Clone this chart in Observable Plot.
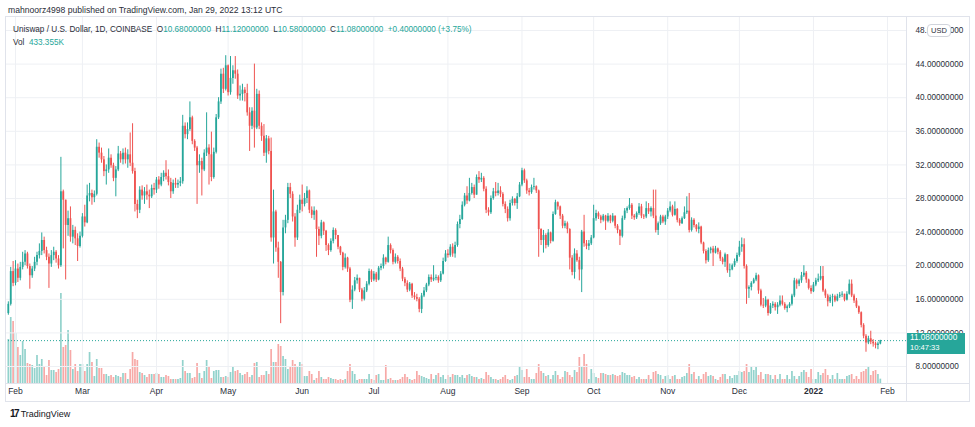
<!DOCTYPE html>
<html><head><meta charset="utf-8">
<script src="https://cdn.jsdelivr.net/npm/d3@7"></script>
<script src="https://cdn.jsdelivr.net/npm/@observablehq/plot@0.6"></script>
<style>
body{margin:0;background:#fff;}
#wrap{position:relative;width:975px;height:427px;overflow:hidden;background:#fff;font-family:"Liberation Sans",Arial,sans-serif;color:#2a2e39;}
#wrap svg{position:absolute;left:0;top:0;}
.t{position:absolute;white-space:nowrap;line-height:1;}
.v{color:#26a69a;}
.ln{position:absolute;background:#e0e3eb;}
</style></head><body><div id="wrap"></div>
<script>
// ---------- DATA ----------
const firstDate = "2021-01-29";   // first daily candle
const firstOpen = 14.3;
const closes = [
15.4,19.3,17.9,19.6,18.5,19.8,20.4,21.4,19.9,18.8,
19.6,20.4,21.2,21.7,23.0,21.8,21.0,20.2,21.2,21.6,
20.8,20.0,28.8,27.8,24.8,25.6,23.4,24.2,23.2,22.3,
23.5,25.8,25.1,28.3,28.6,28.1,28.5,34.1,33.4,32.6,
31.2,31.4,32.8,31.9,30.4,31.4,33.3,32.6,33.4,32.6,
33.2,32.2,31.2,27.3,26.6,29.0,28.3,28.8,28.4,28.2,
29.2,29.0,30.2,29.6,30.5,31.0,30.6,29.9,28.8,29.8,
29.6,29.8,30.0,36.6,35.6,36.2,37.6,34.8,34.0,31.9,
32.4,31.4,33.4,34.0,33.2,30.5,33.5,37.6,39.5,42.8,
41.0,43.8,40.6,42.3,43.2,42.8,40.2,40.4,40.9,40.5,
38.2,36.6,38.4,36.4,40.4,36.6,35.4,33.4,35.1,33.6,
23.3,26.4,22.1,20.4,16.8,24.5,25.4,29.3,28.5,25.8,
23.3,26.6,27.8,27.3,28.0,28.9,26.6,26.0,26.5,24.3,
23.5,25.1,24.1,22.4,21.8,22.9,24.2,23.6,22.2,21.5,
19.8,20.9,19.6,15.9,17.1,18.2,18.5,17.1,16.0,17.0,
17.8,19.3,18.3,19.0,18.3,19.7,19.9,20.9,20.4,22.4,
21.8,20.4,21.0,20.5,19.6,18.4,17.9,17.1,17.8,16.4,
16.2,16.0,14.8,16.4,17.0,17.7,18.6,18.3,18.5,18.6,
18.2,19.0,20.5,21.4,21.2,22.2,21.4,22.4,24.9,25.5,
27.2,28.3,27.7,28.6,29.3,28.4,30.5,30.2,30.4,29.1,
26.6,26.3,28.0,28.8,28.6,28.9,28.5,27.3,26.7,25.6,
27.4,27.9,27.4,28.2,29.6,31.3,30.1,28.9,28.7,29.3,
29.4,28.9,24.3,23.0,23.6,22.4,23.9,22.9,26.1,27.5,
27.0,25.9,24.7,25.0,24.3,20.9,19.2,21.4,20.6,19.5,
24.0,22.6,22.3,22.6,23.3,25.6,26.2,25.8,25.4,25.9,
25.3,25.9,25.3,25.9,24.7,24.2,23.5,25.6,26.5,26.8,
27.2,25.9,25.7,26.2,27.0,25.9,25.8,26.8,26.4,26.8,
25.9,24.2,25.0,25.8,25.2,25.8,26.5,27.0,26.0,26.7,
25.4,25.0,25.6,26.3,26.5,24.2,25.4,24.8,24.3,24.6,
22.7,21.7,20.6,21.8,22.0,21.5,22.0,21.6,20.8,20.4,
21.3,19.4,19.5,20.0,20.5,21.2,22.2,22.5,19.9,17.2,
17.4,17.9,18.3,18.8,17.0,15.3,15.2,15.9,14.3,15.2,
15.4,15.0,15.3,15.8,15.4,14.9,15.1,15.4,16.4,18.2,
17.8,18.2,18.8,19.1,18.3,17.3,16.9,17.7,18.2,18.4,
18.7,17.0,16.4,15.7,16.2,16.3,15.8,16.3,16.5,16.6,
15.9,16.6,17.8,16.4,15.8,15.1,14.4,12.9,11.6,10.8,
11.3,10.9,10.7,10.5,10.68,11.08];
const highs = [
15.7,19.8,20.5,20.6,20.2,20.4,21.6,21.8,21.6,20.2,
19.9,21.0,21.6,22.6,23.9,23.4,22.2,21.4,21.8,22.2,
21.8,21.2,32.9,29.0,27.8,26.5,27.0,24.8,24.6,23.8,
24.0,26.2,27.2,29.6,29.8,29.0,28.9,35.0,34.6,34.0,
33.0,32.0,33.9,33.2,32.2,31.8,34.2,33.6,33.9,34.0,
33.8,35.8,36.9,31.6,27.8,29.4,29.5,29.3,29.6,29.0,
29.6,29.8,30.5,30.6,31.0,31.3,32.5,31.4,30.4,30.2,
30.4,30.2,30.5,37.9,37.0,37.0,39.5,37.8,35.0,34.2,
33.2,32.8,33.8,38.2,34.4,35.9,34.0,38.0,40.0,43.4,
43.5,45.0,43.9,44.9,43.8,44.9,43.3,41.4,41.6,41.2,
41.6,38.8,38.8,44.0,41.0,40.8,37.0,36.8,35.5,35.4,
35.2,29.0,26.6,22.8,20.5,25.4,26.0,29.8,29.8,28.8,
26.2,27.2,28.4,29.6,28.6,29.4,29.0,27.0,27.0,26.6,
24.6,25.4,25.2,24.2,22.6,23.2,24.5,24.4,23.6,22.3,
21.6,21.4,21.0,19.8,17.6,18.6,18.9,18.4,17.3,17.4,
18.1,19.6,19.5,19.3,19.2,19.9,20.2,21.3,21.0,23.4,
22.6,22.0,21.4,21.2,20.8,19.8,18.6,18.2,18.0,17.9,
16.8,16.6,16.2,16.7,17.4,17.9,18.9,18.9,20.0,18.9,
18.8,19.3,20.9,21.8,21.9,22.5,22.6,22.8,25.2,26.0,
27.6,28.6,29.4,30.4,29.8,29.6,30.8,31.2,31.0,30.6,
29.4,26.9,28.3,29.2,29.9,29.8,29.4,28.7,27.6,27.0,
27.8,28.2,28.0,28.6,29.9,31.6,31.5,30.3,29.2,29.6,
30.4,29.5,29.0,24.4,24.2,23.8,24.3,24.0,26.4,27.8,
27.6,27.1,26.1,25.3,25.2,24.4,21.2,22.0,21.8,21.0,
24.2,26.0,23.0,23.0,23.6,27.2,26.6,26.4,26.0,26.1,
26.0,26.2,26.0,26.2,25.9,24.9,24.3,25.9,26.8,27.0,
28.0,27.4,26.1,26.4,27.4,27.3,26.1,27.6,27.4,27.0,
29.0,29.0,25.2,26.0,26.0,26.0,26.8,27.6,27.2,27.6,
26.8,25.6,25.8,27.0,28.2,28.6,25.7,25.6,24.9,25.1,
24.7,22.8,21.9,22.1,22.2,22.3,22.3,22.1,21.8,21.0,
21.5,21.2,20.2,20.2,20.8,21.5,22.9,23.3,23.2,20.1,
17.6,18.1,18.5,19.1,18.9,17.2,16.1,16.3,16.0,15.5,
15.7,15.6,15.6,16.4,16.4,15.6,15.3,15.6,16.6,18.5,
18.4,18.4,19.2,20.0,19.3,18.4,17.6,18.0,18.5,19.0,
19.9,19.9,17.2,16.6,16.5,16.6,16.5,16.6,16.8,16.9,
16.6,16.9,18.3,18.3,16.6,16.1,15.2,14.5,13.1,11.8,
11.6,12.2,11.2,10.9,10.9,11.12];
const lows = [
14.1,15.2,17.5,17.6,18.0,18.2,19.5,20.0,19.6,17.2,
18.5,19.3,20.0,20.8,21.2,21.4,20.6,17.3,19.8,20.6,
20.3,19.6,19.8,22.0,18.3,23.5,22.8,22.6,22.4,20.5,
22.1,23.3,24.6,25.0,27.6,27.2,27.5,28.3,32.8,32.2,
30.6,29.6,31.0,31.6,30.0,28.2,31.2,32.2,32.0,32.1,
31.6,31.8,30.9,26.4,25.6,26.2,27.8,27.3,27.8,26.8,
28.0,28.4,28.6,29.1,29.4,30.0,30.2,29.5,28.0,28.5,
29.2,29.2,29.4,29.7,35.1,35.0,36.0,34.4,33.6,27.3,
31.0,28.3,31.2,33.0,29.6,30.0,30.3,33.3,37.4,39.2,
40.5,40.8,40.2,40.3,41.6,42.2,39.8,39.6,39.6,39.5,
37.8,33.6,36.2,34.0,36.2,36.2,34.8,33.0,32.2,33.2,
22.8,20.2,21.6,18.5,13.1,16.4,23.8,25.0,28.0,25.2,
22.2,23.0,26.2,26.4,27.0,27.4,26.2,25.6,25.4,21.0,
22.4,23.2,23.6,21.7,21.2,21.6,22.6,23.1,21.9,21.2,
19.4,19.6,19.2,15.6,14.8,16.9,17.8,16.8,15.7,15.8,
16.8,17.6,18.0,18.1,18.0,18.2,19.4,19.6,20.1,20.3,
21.4,20.1,20.2,20.2,19.3,18.1,17.5,16.8,16.9,16.1,
15.9,15.7,14.4,14.3,16.2,16.8,17.5,18.0,18.1,18.2,
17.9,18.0,18.9,20.4,20.9,21.0,21.0,20.9,22.2,24.4,
25.4,27.0,27.3,27.6,28.4,28.0,28.6,29.8,29.9,28.8,
26.2,25.9,26.1,27.8,28.2,28.3,28.1,27.0,26.2,25.2,
25.3,27.1,27.1,26.7,28.1,29.4,29.8,28.5,28.3,28.5,
29.0,28.6,21.0,22.4,21.5,22.0,22.2,22.6,22.8,26.0,
26.6,25.5,24.4,24.4,23.8,19.5,18.8,18.4,20.4,18.2,
16.8,22.2,21.9,21.8,22.4,23.2,25.3,25.5,25.0,25.2,
24.2,25.1,25.0,25.1,24.4,23.8,22.4,23.3,25.4,26.2,
26.6,25.5,25.4,25.5,26.0,25.6,25.5,25.6,26.1,25.8,
25.6,23.9,23.6,24.8,25.0,24.8,25.5,26.3,25.8,25.9,
25.1,24.7,24.9,25.5,26.1,23.9,24.0,24.5,24.0,23.8,
22.5,21.4,20.2,20.4,21.4,19.9,21.4,21.3,20.5,20.1,
19.8,19.1,18.6,19.4,19.8,20.3,21.0,21.6,19.6,15.4,
16.1,17.0,17.8,18.1,16.6,15.1,14.9,15.0,14.0,14.2,
14.9,14.6,14.2,15.1,15.2,14.7,14.4,14.9,15.2,16.2,
17.2,17.5,17.9,18.6,17.9,17.1,16.6,16.8,17.5,18.0,
18.2,16.8,16.1,15.1,15.5,15.1,15.6,15.7,16.1,16.2,
15.7,15.8,16.5,16.2,15.5,14.9,14.2,12.6,11.3,9.7,
10.6,10.6,10.3,10.1,10.0,10.58];
const volumesM = [
4.4,6.6,6.2,5.0,3.6,2.8,4.2,3.4,2.0,1.9,
1.8,1.5,2.8,1.9,2.4,1.7,0.8,2.3,1.3,1.3,
1.1,1.4,9.0,3.6,3.8,5.3,3.3,1.4,1.9,1.2,
1.9,1.9,1.2,1.9,3.1,2.1,0.7,2.4,1.5,1.5,
0.9,0.9,0.7,0.8,0.6,0.8,0.7,0.6,1.0,1.0,
0.4,1.4,3.1,2.4,2.3,1.1,1.0,0.8,0.6,0.9,
0.9,0.9,1.0,0.9,0.6,0.6,0.8,0.7,0.4,0.4,
0.4,0.4,0.5,2.3,1.2,1.0,1.0,0.5,0.6,2.0,
1.0,0.5,1.2,2.3,1.6,0.5,1.2,1.3,1.3,0.6,
0.6,0.7,0.6,1.1,1.7,1.2,1.3,1.0,0.8,0.9,
1.1,0.6,0.8,2.0,2.1,0.6,0.8,0.8,1.2,0.9,
3.4,2.1,2.1,3.9,3.7,2.7,2.4,1.4,1.6,2.3,
1.9,1.7,2.1,1.9,0.7,0.7,1.2,0.9,0.3,0.5,
1.2,0.6,0.4,0.4,0.6,0.5,0.4,0.4,0.3,0.4,
0.3,0.4,1.2,1.9,1.2,0.9,0.3,0.4,0.4,0.4,
0.4,0.9,0.4,0.3,0.8,0.9,0.3,0.3,1.8,0.4,
0.5,0.3,0.3,0.3,0.4,0.6,0.9,0.6,0.4,0.3,
0.4,1.2,0.8,0.7,0.6,0.5,0.4,0.9,0.4,0.8,
1.0,0.6,0.8,0.4,0.8,0.6,0.9,0.8,0.8,0.6,
0.8,0.5,0.8,0.9,0.7,0.6,0.6,0.4,0.5,0.4,
1.1,0.8,0.6,0.4,0.4,0.3,0.4,0.6,0.8,0.4,
0.3,0.4,0.7,0.8,1.7,1.3,0.6,1.4,0.6,0.4,
0.4,1.0,1.9,1.2,1.0,0.7,0.8,0.4,0.8,1.2,
0.8,0.4,0.6,1.2,1.1,0.8,0.6,1.3,1.1,2.6,
1.7,2.9,1.9,0.4,1.4,1.0,0.6,0.5,1.0,1.0,
0.9,0.8,0.8,0.9,0.8,0.7,0.8,1.1,1.0,0.8,
0.8,0.6,0.7,0.4,0.6,0.4,0.4,0.4,0.8,0.4,
1.1,1.2,0.9,0.8,0.4,0.7,0.8,0.4,0.7,0.8,
0.4,0.4,0.6,0.7,1.0,1.9,0.9,1.1,0.4,0.7,
0.4,0.9,1.1,0.7,0.8,0.7,0.4,0.3,0.6,0.9,
0.9,0.4,0.7,0.5,0.8,0.8,1.2,1.1,1.2,1.9,
1.1,1.7,1.3,1.6,0.8,1.1,0.4,0.9,0.9,0.8,
0.4,0.8,0.4,0.9,0.4,0.4,0.8,0.4,1.2,0.7,
0.4,0.7,1.1,1.3,1.1,0.6,1.4,0.4,0.4,1.1,
0.8,1.0,1.4,0.8,0.4,0.8,0.4,1.0,0.4,0.4,
0.4,0.7,0.8,0.9,0.4,0.7,0.4,1.1,1.2,1.4,
1.6,0.8,1.2,1.3,0.9,0.433];
const priceTicks = [8,12,16,20,24,28,32,36,40,44,48];
const tickDates = ["2021-02-01","2021-03-01","2021-04-01","2021-05-01","2021-06-01","2021-07-01","2021-08-01","2021-09-01","2021-10-01","2021-11-01","2021-12-01","2022-01-01","2022-02-01"];
const tickLabels = ["Feb","Mar","Apr","May","Jun","Jul","Aug","Sep","Oct","Nov","Dec","2022","Feb"];
const lastClose = 11.08;

// ---------- BUILD ----------
const teal = "#26a69a", red = "#ef5350";
const tealVol = "rgba(38,166,154,0.5)", redVol = "rgba(239,83,80,0.5)";
const rows = closes.map((c, i) => {
  const open = i ? closes[i - 1] : firstOpen;
  return {
    date: d3.utcDay.offset(new Date(firstDate), i),
    open, close: c,
    high: Math.max(highs[i], open, c),
    low: Math.min(lows[i], open, c),
    vol: volumesM[i],
    up: c >= open
  };
});
const up = rows.filter(d => d.up), down = rows.filter(d => !d.up);
const ticks = tickDates.map((t, i) => ({date: new Date(t), label: tickLabels[i]}));
const xOpt = {type: "utc", domain: [new Date("2021-02-01"), new Date("2022-02-01")], range: [15, 887], axis: null};
const grid = "#eef0f4";
const font = '"Liberation Sans", Arial, sans-serif';

const wrap = document.getElementById("wrap");

const volPlot = Plot.plot({
  width: 975, height: 401,
  marginLeft: 5, marginRight: 69, marginTop: 16, marginBottom: 18,
  x: xOpt,
  y: {domain: [0, 10], range: [383, 283], axis: null},
  style: {background: "transparent", fontFamily: font, overflow: "visible"},
  marks: [
    Plot.ruleX(up, {x: "date", y1: 0, y2: "vol", stroke: tealVol, strokeWidth: 1.7}),
    Plot.ruleX(down, {x: "date", y1: 0, y2: "vol", stroke: redVol, strokeWidth: 1.7}),
    Plot.text(ticks.filter(d => d.label !== "2022"), {x: "date", text: "label", frameAnchor: "bottom", dy: 10, fontSize: 8.5, fill: "#2a2e39"}),
    Plot.text(ticks.filter(d => d.label === "2022"), {x: "date", text: "label", frameAnchor: "bottom", dy: 10, fontSize: 8.5, fontWeight: "bold", fill: "#2a2e39"})
  ]
});

const pricePlot = Plot.plot({
  width: 975, height: 383,
  marginLeft: 5, marginRight: 69, marginTop: 16, marginBottom: 0,
  x: xOpt,
  y: {domain: [8, 48], range: [366, 30], axis: null},
  style: {background: "transparent", fontFamily: font, overflow: "visible"},
  marks: [
    Plot.ruleY(priceTicks, {stroke: grid}),
    Plot.ruleX(ticks, {x: "date", stroke: grid}),
    Plot.ruleY([lastClose], {stroke: teal, strokeDasharray: "1,2", strokeWidth: 1}),
    Plot.ruleX(up, {x: "date", y1: "low", y2: "high", stroke: teal, strokeWidth: 1}),
    Plot.ruleX(down, {x: "date", y1: "low", y2: "high", stroke: red, strokeWidth: 1}),
    Plot.ruleX(up, {x: "date", y1: "open", y2: "close", stroke: teal, strokeWidth: 1.8}),
    Plot.ruleX(down, {x: "date", y1: "open", y2: "close", stroke: red, strokeWidth: 1.8}),
    Plot.text(priceTicks, {y: d => d, text: d => d.toFixed(8), frameAnchor: "right", dx: 9, textAnchor: "start", fontSize: 8.2, fill: "#2a2e39"})
  ]
});

wrap.appendChild(volPlot);
wrap.appendChild(pricePlot);

function add(html, css, cls) {
  const el = document.createElement("div");
  el.className = cls || "t";
  el.innerHTML = html;
  Object.assign(el.style, css);
  wrap.appendChild(el);
  return el;
}
// pane borders
add("", {left: "5px", top: "16px", width: "965px", height: "1px"}, "ln");
add("", {left: "5px", top: "401px", width: "965px", height: "1px"}, "ln");
add("", {left: "5px", top: "16px", width: "1px", height: "385px"}, "ln");
add("", {left: "969px", top: "16px", width: "1px", height: "385px"}, "ln");
add("", {left: "906px", top: "16px", width: "1px", height: "385px"}, "ln");
add("", {left: "5px", top: "383px", width: "965px", height: "1px"}, "ln");

// header & legend
add("mahnoorz4998 published on TradingView.com, Jan 29, 2022 13:12 UTC", {left: "8px", top: "6px", fontSize: "8.6px"});
add('Uniswap / U.S. Dollar, 1D, COINBASE&nbsp; O<span class="v">10.68000000</span>&nbsp; H<span class="v">11.12000000</span>&nbsp; L<span class="v">10.58000000</span>&nbsp; C<span class="v">11.08000000</span>&nbsp; <span class="v">+0.40000000 (+3.75%)</span>', {left: "13px", top: "25.5px", fontSize: "8.2px"});
add('Vol&nbsp; <span class="v">433.355K</span>', {left: "13px", top: "38.5px", fontSize: "8.2px"});

// USD pill
add("USD", {left: "927px", top: "24px", width: "22px", height: "11px", lineHeight: "11px", fontSize: "7.5px", textAlign: "center", border: "1px solid #d1d4dc", borderRadius: "4px", background: "#fff"});

// last price badge
const yy = pricePlot.scale("y").apply(lastClose);
add('11.08000000<br><span style="font-size:7.6px">10:47:33</span>', {left: "907px", top: (yy - 7) + "px", width: "58px", height: "21px", background: teal, color: "#fff", fontSize: "8.2px", lineHeight: "10px", paddingLeft: "3px", boxSizing: "border-box"});

// TradingView footer
add('<span style="font-weight:900;font-size:10px;letter-spacing:-1.5px;color:#131722">17</span>&nbsp;TradingView', {left: "10px", top: "409px", fontSize: "9px", color: "#131722"});
</script></body></html>
